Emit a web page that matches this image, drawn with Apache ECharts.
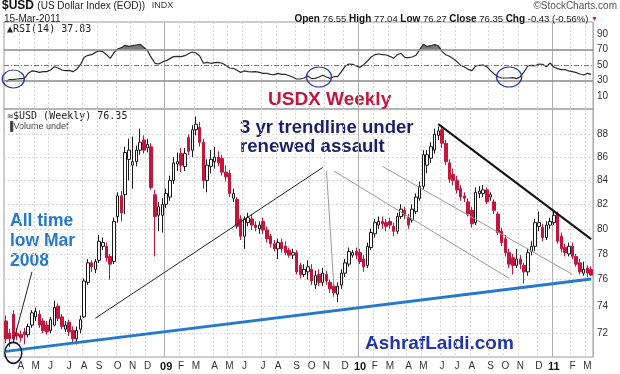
<!DOCTYPE html>
<html><head><meta charset="utf-8">
<script src="https://cdn.jsdelivr.net/npm/echarts@6/dist/echarts.min.js"></script>
<style>html,body{margin:0;padding:0;background:#fff}#c{width:620px;height:374px}</style>
</head><body><div id="c"></div>
<script>
// Weekly categories (Monday of each week)
const weeks = ['2008-03-10','2008-03-17','2008-03-24','2008-03-31','2008-04-07','2008-04-14','2008-04-21','2008-04-28','2008-05-05','2008-05-12',
'2008-05-19','2008-05-26','2008-06-02','2008-06-09','2008-06-16','2008-06-23','2008-06-30','2008-07-07','2008-07-14','2008-07-21',
'2008-07-28','2008-08-04','2008-08-11','2008-08-18','2008-08-25','2008-09-01','2008-09-08','2008-09-15','2008-09-22','2008-09-29',
'2008-10-06','2008-10-13','2008-10-20','2008-10-27','2008-11-03','2008-11-10','2008-11-17','2008-11-24','2008-12-01','2008-12-08',
'2008-12-15','2008-12-22','2008-12-29','2009-01-05','2009-01-12','2009-01-19','2009-01-26','2009-02-02','2009-02-09','2009-02-16',
'2009-02-23','2009-03-02','2009-03-09','2009-03-16','2009-03-23','2009-03-30','2009-04-06','2009-04-13','2009-04-20','2009-04-27',
'2009-05-04','2009-05-11','2009-05-18','2009-05-25','2009-06-01','2009-06-08','2009-06-15','2009-06-22','2009-06-29','2009-07-06',
'2009-07-13','2009-07-20','2009-07-27','2009-08-03','2009-08-10','2009-08-17','2009-08-24','2009-08-31','2009-09-07','2009-09-14',
'2009-09-21','2009-09-28','2009-10-05','2009-10-12','2009-10-19','2009-10-26','2009-11-02','2009-11-09','2009-11-16','2009-11-23',
'2009-11-30','2009-12-07','2009-12-14','2009-12-21','2009-12-28','2010-01-04','2010-01-11','2010-01-18','2010-01-25','2010-02-01',
'2010-02-08','2010-02-15','2010-02-22','2010-03-01','2010-03-08','2010-03-15','2010-03-22','2010-03-29','2010-04-05','2010-04-12',
'2010-04-19','2010-04-26','2010-05-03','2010-05-10','2010-05-17','2010-05-24','2010-05-31','2010-06-07','2010-06-14','2010-06-21',
'2010-06-28','2010-07-05','2010-07-12','2010-07-19','2010-07-26','2010-08-02','2010-08-09','2010-08-16','2010-08-23','2010-08-30',
'2010-09-06','2010-09-13','2010-09-20','2010-09-27','2010-10-04','2010-10-11','2010-10-18','2010-10-25','2010-11-01','2010-11-08',
'2010-11-15','2010-11-22','2010-11-29','2010-12-06','2010-12-13','2010-12-20','2010-12-27','2011-01-03','2011-01-10','2011-01-17',
'2011-01-24','2011-01-31','2011-02-07','2011-02-14','2011-02-21','2011-02-28','2011-03-07','2011-03-14'];

const opens = [72.9,72.0,73.4,72.0,71.9,72.1,71.9,72.6,73.2,73.4,
72.9,72.6,72.2,72.6,74.0,73.2,72.3,72.8,72.2,71.6,
72.3,73.2,75.8,77.3,76.8,77.5,78.6,78.6,77.8,77.4,
81.0,82.7,82.8,85.8,85.3,85.6,86.6,87.5,86.8,86.9,
82.8,81.1,81.1,82.0,82.6,84.0,85.4,86.3,85.2,87.7,
86.6,88.4,88.6,87.3,84.0,85.2,85.6,86.0,85.9,84.7,
84.6,82.5,82.4,80.8,79.4,80.5,80.8,80.3,80.0,80.6,
79.9,79.4,78.8,78.4,78.9,78.6,78.3,77.9,78.1,77.1,
76.4,76.6,76.8,75.6,76.4,75.8,76.4,75.8,75.5,74.9,
75.6,76.5,77.2,77.9,78.2,78.1,77.6,77.1,78.5,79.6,
80.3,80.6,80.5,80.6,80.2,79.8,81.0,81.5,80.9,80.7,
81.4,82.5,83.5,85.3,85.9,86.6,87.9,88.4,87.2,85.5,
84.5,84.0,83.3,82.7,82.2,81.5,80.5,82.9,82.9,83.2,
82.6,82.2,81.2,79.8,79.2,78.1,77.7,77.1,77.6,77.1,
76.6,78.2,78.6,80.2,80.1,79.3,80.3,80.5,81.2,79.4,
78.5,78.0,78.6,77.8,77.3,76.5,76.9,76.78];
const highs = [73.3,72.3,73.7,72.4,72.2,72.4,72.7,73.7,73.9,73.7,
73.1,72.9,73.2,74.4,74.2,73.4,72.9,73.0,72.5,72.5,
73.3,76.1,77.6,77.5,77.6,79.5,79.3,78.9,78.0,80.9,
83.0,83.1,86.9,87.6,87.8,87.0,88.5,87.9,87.6,87.2,
83.2,82.2,82.5,83.3,84.4,86.0,86.4,86.8,86.8,88.0,
88.8,89.6,89.1,87.6,85.8,86.6,86.9,86.5,86.2,85.3,
84.9,83.3,82.6,81.1,81.0,81.3,81.2,80.6,80.6,80.9,
80.2,79.6,79.1,79.2,79.2,79.0,78.5,78.4,78.3,77.3,
77.2,77.5,77.2,76.7,76.8,76.9,76.7,76.0,75.8,75.8,
76.8,77.6,78.5,78.3,78.5,78.4,77.9,78.9,80.0,80.8,
81.0,81.0,80.8,80.9,80.5,81.3,82.0,81.8,81.2,82.0,
82.9,83.9,86.6,86.6,87.3,88.5,88.7,88.6,87.5,85.8,
85.0,84.4,83.6,83.0,82.5,81.8,83.4,83.5,83.6,83.4,
83.0,82.4,81.4,80.1,79.5,78.4,78.0,78.4,77.9,77.3,
78.4,79.0,80.8,81.4,80.4,80.6,80.9,81.4,81.4,79.7,
78.8,78.9,78.9,78.0,77.6,77.4,77.1,77.04];
const lows = [71.3,71.0,71.4,71.5,71.4,71.2,71.7,72.4,72.9,72.4,
72.0,71.9,72.0,72.5,72.9,72.3,72.1,71.8,71.3,71.2,
72.0,73.1,75.6,76.6,76.5,77.3,78.3,77.4,76.0,77.2,
80.5,80.6,81.2,84.0,83.3,85.2,86.2,86.3,86.4,83.2,
77.8,79.8,79.7,81.7,82.3,83.7,84.8,84.7,84.8,86.2,
86.0,87.9,86.9,83.3,83.0,84.6,85.0,85.2,84.4,83.9,
82.6,82.2,80.0,79.1,78.4,80.2,79.9,79.8,79.6,79.6,
78.9,78.5,78.2,77.6,78.1,77.9,77.7,77.6,76.4,76.1,
76.2,76.0,75.6,75.3,75.5,75.5,75.6,75.0,74.7,74.3,
75.3,76.2,77.0,77.7,77.6,77.2,76.6,76.9,78.3,79.3,
80.0,80.0,79.8,80.0,79.4,79.6,80.8,80.8,80.0,80.5,
81.2,82.3,83.2,84.6,85.5,86.3,87.5,86.8,85.3,83.8,
83.6,82.9,82.3,82.2,81.0,80.1,80.3,82.5,82.6,82.0,
82.3,81.2,79.5,78.6,77.8,76.9,76.4,76.9,76.8,75.7,
76.3,77.9,78.2,79.8,79.0,79.1,80.0,80.3,78.8,78.1,
77.8,77.8,77.6,77.0,76.4,76.3,76.2,76.27];
const closes = [71.6,71.6,71.6,71.8,71.7,71.9,72.5,73.5,73.6,72.6,
72.2,72.1,73.0,73.9,73.1,72.5,72.6,72.1,71.6,72.2,
73.0,75.9,77.3,77.0,77.4,79.0,78.9,77.7,77.2,80.6,
82.7,81.3,86.4,86.6,85.6,86.6,87.3,86.6,87.1,83.4,
81.0,81.8,82.0,82.9,84.0,85.5,85.6,85.3,86.3,86.5,
88.4,88.9,87.3,84.0,85.3,85.8,86.0,85.5,84.7,84.3,
82.9,82.9,80.2,79.4,80.8,80.9,80.3,80.1,80.3,79.9,
79.2,78.8,78.4,78.9,78.4,78.1,77.9,78.1,76.6,76.4,
76.8,77.0,75.9,76.3,75.8,76.5,75.9,75.3,75.0,75.5,
76.5,77.3,78.2,78.1,77.9,77.4,77.0,78.6,79.7,80.5,
80.6,80.4,80.2,80.3,79.8,81.0,81.6,81.1,80.3,81.6,
82.6,83.5,86.2,86.2,86.9,88.0,88.3,87.2,85.6,84.1,
84.0,83.2,82.6,82.5,81.2,80.4,83.0,83.1,83.2,82.2,
82.8,81.5,79.7,78.9,78.1,77.2,77.1,77.6,77.2,76.6,
78.1,78.6,80.5,80.5,79.3,80.3,80.6,81.1,79.0,78.4,
78.1,78.6,77.8,77.2,76.6,76.8,76.5,76.35];
const rsi = [28.9,31.1,31.1,31.9,32.4,32.8,39.2,42.3,41.8,40.5,
41.4,41.4,43.5,47.8,46.1,43.5,42.7,43.1,41.4,44.4,
50.4,59.9,62.5,63.3,66.3,68.1,67.2,63.3,58.6,65.9,
70.6,72.4,75.4,74.1,74.9,75.8,76.7,72.8,68.5,59.5,
52.2,51.3,53.9,55.6,58.2,60.8,61.2,60.8,62.0,64.6,
66.8,65.5,61.6,52.2,53.4,52.2,53.0,53.4,52.2,49.6,
46.1,45.7,43.1,40.5,42.3,41.4,41.0,41.4,40.5,39.2,
39.2,38.0,37.5,39.2,38.0,38.0,36.2,34.1,31.9,31.9,
33.2,35.8,32.4,32.8,34.5,36.7,34.5,32.8,34.9,34.9,
41.4,48.3,51.3,50.9,48.7,47.0,50.4,55.2,60.3,63.3,
64.2,63.3,62.9,61.2,58.6,63.3,65.1,59.9,59.5,60.3,
62.5,69.8,76.7,73.7,74.9,76.2,74.9,67.6,63.3,61.2,
58.2,54.3,49.6,47.4,44.4,42.7,48.7,49.6,50.0,47.8,
42.7,38.4,34.9,33.2,33.2,33.2,33.7,32.4,34.9,41.0,
48.7,49.6,49.1,51.3,50.9,47.8,52.6,47.4,45.3,44.0,
44.0,42.3,41.4,40.1,38.4,37.1,39.2,37.83];

const priceTicks = [72,74,76,78,80,82,84,86,88];
const rsiTicks = [10,30,50,70,90];
const rsiLevels = [30,50,70];
const lastClose = 76.35, lastRsi = 37.83;
// trendline anchor points [weekIndex, price]
const supportLine = [[0,70.7],[157,76.05]];
const risingLine = [[24,73.1],[85,85.1]];
const dropLine = [[86,84.8],[88,75.5]];
const channelA = [[88,84.8],[135,76.1]];
const channelB = [[101,85.2],[152,76.4]];
const downLine = [[116,88.9],[157,79.17]];
const pointerLine = [[7,76.6],[2,71.35]];
const lowCircle = [2,70.6];
const rsiCircles = [[2,31.9],[84,34.5],[135,34.5]];

const ohlc = weeks.map((w,i)=>[opens[i],closes[i],lows[i],highs[i]]);
const isMonthStart = i => i>0 && weeks[i].slice(5,7)!==weeks[i-1].slice(5,7);
const isYearStart = i => i>0 && weeks[i].slice(0,4)!==weeks[i-1].slice(0,4);
const rsiBase = rsi.map(()=>70);
const rsiOver = rsi.map(v=>Math.max(v-70,0));

const FONT = 'Liberation Sans, Arial, sans-serif';
const seg = (p, style) => [{coord:p[0], lineStyle:style},{coord:p[1]}];

function xAx(grid, kind, labels){
  return {type:'category', gridIndex:grid, data:weeks, boundaryGap:true,
    axisLine:{show:false}, axisTick:{show:false},
    axisLabel:{show:labels, interval:(i)=>isMonthStart(i), margin:4,
      formatter:(v)=>{const m=+v.slice(5,7); return m===1?'{y|'+v.slice(2,4)+'}':'{m|'+'JFMAMJJASOND'[m-1]+'}';},
      rich:{y:{fontWeight:'bold',fontSize:11,color:'#111',fontFamily:FONT},m:{fontSize:10,color:'#333',fontFamily:FONT}}},
    splitLine:{show:true, interval:(i)=> kind==='year'?isYearStart(i):(isMonthStart(i)&&!isYearStart(i)),
      lineStyle: kind==='year'?{color:'#b0b0b0',width:1}:{color:'#d8d8d8',width:1,type:[2,2]}}};
}

const chart = echarts.init(document.getElementById('c'), null, {renderer:'canvas'});
chart.setOption({
  animation:false, backgroundColor:'#fff',
  grid:[
    {left:4, top:22, width:589, height:87, show:true, borderColor:'#9a9a9a', borderWidth:1},
    {left:4, top:109, width:589, height:248, show:true, borderColor:'#9a9a9a', borderWidth:1}
  ],
  xAxis:[xAx(0,'month',false), xAx(0,'year',false), xAx(1,'month',true), xAx(1,'year',false)],
  yAxis:[
    {type:'value', gridIndex:0, position:'right', min:-6.8, max:105.5,
      axisLine:{show:false}, axisTick:{show:false, customValues:rsiTicks},
      axisLabel:{customValues:rsiTicks, color:'#333', fontSize:10, margin:4, fontFamily:FONT},
      splitLine:{show:false}},
    {type:'log', gridIndex:1, position:'right', min:70.3, max:90.27, logBase:10,
      axisLine:{show:false}, axisTick:{show:false, customValues:priceTicks},
      axisLabel:{customValues:priceTicks, color:'#333', fontSize:10, margin:4, fontFamily:FONT},
      splitLine:{show:true, lineStyle:{color:'#d8d8d8', width:1, type:[2,2]}}}
  ],
  series:[
    {type:'line', xAxisIndex:0, yAxisIndex:0, data:rsiBase, stack:'ob', symbol:'none', lineStyle:{width:0}, silent:true},
    {type:'line', xAxisIndex:0, yAxisIndex:0, data:rsiOver, stack:'ob', symbol:'none', lineStyle:{width:0},
      areaStyle:{color:'#7a7a7a', opacity:1}, silent:true},
    {type:'line', xAxisIndex:0, yAxisIndex:0, data:rsi, symbol:'none', silent:true,
      lineStyle:{color:'#2a2a2a', width:1.2},
      markLine:{symbol:['none','none'], silent:true, animation:false,
        label:{show:false},
        data:[
          {yAxis:rsiLevels[0], lineStyle:{color:'#8a8a8a', width:1.5, type:'solid'}},
          {yAxis:rsiLevels[1], lineStyle:{color:'#777', width:1, type:[5,2,1,2]}},
          {yAxis:rsiLevels[2], lineStyle:{color:'#8a8a8a', width:1.5, type:'solid'}},
          {yAxis:lastRsi, lineStyle:{opacity:0, width:0},
            label:{show:true, position:'end', distance:3, formatter:String(lastRsi), fontSize:10, color:'#000',
              fontFamily:FONT, backgroundColor:'#fff', borderColor:'#333', borderWidth:1, padding:[1,1,0,2]}}
        ]},
      markPoint:{symbol:'circle', silent:true, animation:false, label:{show:false},
        itemStyle:{color:'rgba(0,0,0,0)', borderColor:'#2c3aa6', borderWidth:1.3},
        data:[
          {coord:rsiCircles[0], symbolSize:[22,18]},
          {coord:rsiCircles[1], symbolSize:[25,20]},
          {coord:rsiCircles[2], symbolSize:[25,20]}
        ]}
    },
    {type:'candlestick', xAxisIndex:2, yAxisIndex:1, data:ohlc, barWidth:3, silent:true,
      itemStyle:{color:'#ffffff', color0:'#c4163c', borderColor:'#1a1a1a', borderColor0:'#c4163c', borderWidth:1},
      markLine:{symbol:['none','none'], silent:true, animation:false, label:{show:false},
        data:[
          seg(supportLine,{color:'#2479cf', width:3, type:'solid'}),
          seg(risingLine,{color:'#222', width:1, type:'solid'}),
          seg(dropLine,{color:'#999', width:1, type:'solid'}),
          seg(channelA,{color:'#999', width:1, type:'solid'}),
          seg(channelB,{color:'#999', width:1, type:'solid'}),
          seg(downLine,{color:'#111', width:2, type:'solid'}),
          seg(pointerLine,{color:'#222', width:1, type:'solid'}),
          {yAxis:lastClose, lineStyle:{opacity:0, width:0},
            label:{show:true, position:'end', distance:3, formatter:String(lastClose), fontSize:10, fontWeight:'bold', color:'#000',
              fontFamily:FONT, backgroundColor:'#fff', borderColor:'#333', borderWidth:1, padding:[1,1,0,2]}}
        ]},
      markPoint:{symbol:'circle', silent:true, animation:false, label:{show:false},
        itemStyle:{color:'rgba(0,0,0,0)', borderColor:'#14163f', borderWidth:1.6},
        data:[{coord:lowCircle, symbolSize:[17,21]}]}
    }
  ],
  graphic:[
    {type:'text', x:2, y:0, style:{text:'{a|$USD} {b|(US Dollar Index (EOD))}  {c|INDX}', x:0, y:0, verticalAlign:'top',
      rich:{a:{fontSize:12,fontWeight:'bold',fill:'#111',fontFamily:FONT,color:'#111'},
            b:{fontSize:10,fill:'#222',color:'#222',fontFamily:FONT},
            c:{fontSize:9,fill:'#333',color:'#333',fontFamily:FONT}}}},
    {type:'text', x:617, y:1, style:{text:'©StockCharts.com', align:'right', verticalAlign:'top', fontSize:10, fill:'#555', fontFamily:FONT}},
    {type:'text', x:4, y:14, style:{text:'15-Mar-2011', verticalAlign:'top', fontSize:10, fill:'#222', fontFamily:FONT}},
    {type:'text', x:598, y:14, style:{text:'{l|Open} 76.55 {l|High} 77.04 {l|Low} 76.27 {l|Close} 76.35 {l|Chg} -0.43 (-0.56%) {r|▼}',
      align:'right', verticalAlign:'top', fontSize:9.5, fill:'#222', fontFamily:FONT,
      rich:{l:{fontSize:10,fontWeight:'bold',fill:'#111',color:'#111',fontFamily:FONT}, r:{fontSize:7,fill:'#c4163c',color:'#c4163c'}}}},
    {type:'text', x:7, y:24, style:{text:'\u25B2RSI(14) 37.83', verticalAlign:'top', fontSize:10, fill:'#222', fontFamily:'DejaVu Sans Mono, monospace'}},
    {type:'text', x:7, y:111, style:{text:'\u2248$USD (Weekly) 76.35', verticalAlign:'top', fontSize:10, fill:'#222', fontFamily:'DejaVu Sans Mono, monospace'}},
    {type:'text', x:7, y:122, style:{text:'\u2590Volume undef', verticalAlign:'top', fontSize:9, fill:'#444', fontFamily:FONT}},
    {type:'text', x:268, y:90, style:{text:'USDX Weekly', verticalAlign:'top', fontSize:19, fontWeight:'bold', fill:'#c4163c', fontFamily:FONT}},
    {type:'text', x:240, y:118, style:{text:'3 yr trendline under\nrenewed assault', verticalAlign:'top', fontSize:18.6, lineHeight:19, fontWeight:'bold', fill:'#1b1f66', fontFamily:FONT}},
    {type:'text', x:10, y:211, style:{text:'All time\nlow Mar\n2008', verticalAlign:'top', fontSize:17.5, lineHeight:20, fontWeight:'bold', fill:'#2479cf', fontFamily:FONT}},
    {type:'text', x:365, y:334, style:{text:'AshrafLaidi.com', verticalAlign:'top', fontSize:19, fontWeight:'bold', fill:'#2233b0', fontFamily:FONT}}
  ]
});
</script></body></html>
